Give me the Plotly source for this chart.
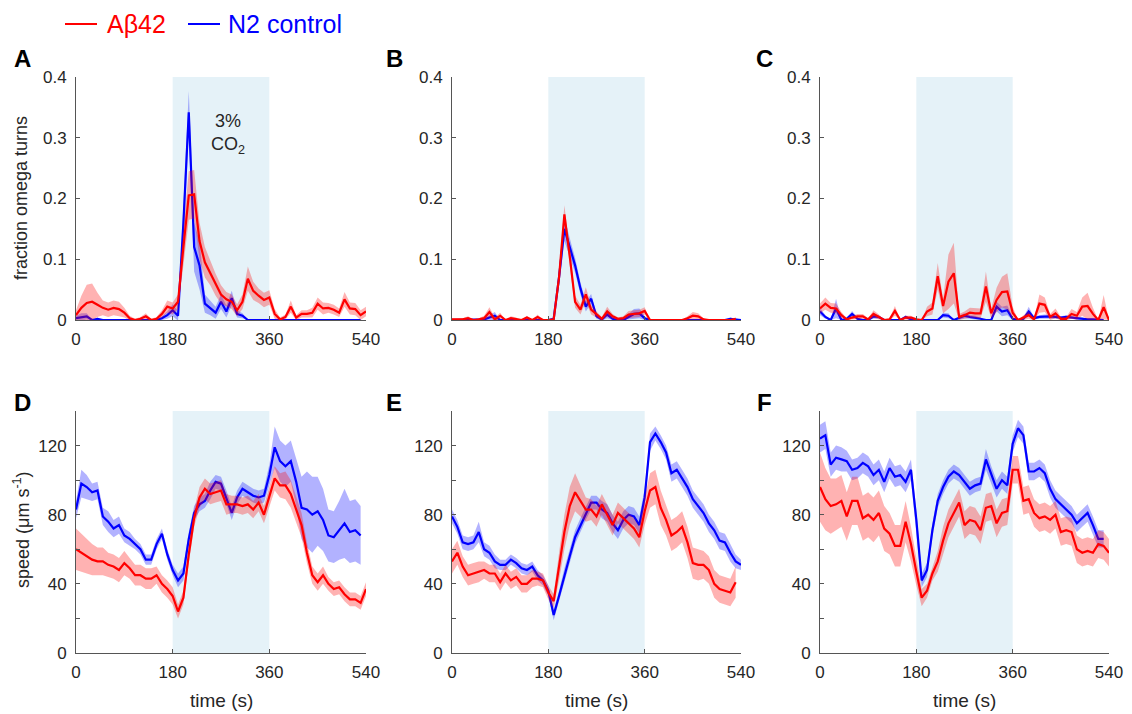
import plotly.graph_objects as go

T = list(range(0, 550, 10))

# ---- Panel A (fraction omega turns) ----
A_red = [0.008,0.020,0.028,0.030,0.025,0.020,0.017,0.020,0.018,0.012,
         0.003,0.000,0.002,0.006,0.000,0.002,0.010,0.022,0.019,0.030,
         0.120,0.205,0.207,0.130,0.095,0.077,0.058,0.042,0.034,0.030,
         0.016,0.030,0.068,0.048,0.040,0.033,0.037,0.010,0.001,0.005,
         0.022,0.004,0.010,0.010,0.012,0.027,0.019,0.020,0.017,0.012,
         0.034,0.019,0.018,0.008,0.014]
A_red_sem = [0.008,0.02,0.03,0.03,0.02,0.012,0.012,0.012,0.012,0.008,
             0.004,0.002,0.003,0.005,0.002,0.003,0.006,0.01,0.01,0.012,
             0.03,0.04,0.04,0.03,0.025,0.02,0.018,0.015,0.012,0.012,
             0.01,0.012,0.02,0.015,0.012,0.012,0.012,0.008,0.003,0.004,
             0.01,0.004,0.006,0.006,0.008,0.01,0.01,0.008,0.008,0.007,
             0.012,0.01,0.01,0.008,0.008]
A_blue = [0.003,0.005,0.006,0.000,0.002,0,0,0,0,0,
          0,0,0,0,0,0,0.003,0.008,0.016,0.007,
          0.160,0.342,0.120,0.090,0.027,0.020,0.012,0.030,0.014,0.036,
          0.010,0.007,0,0,0,0,0,0,0,0,
          0,0,0,0,0,0,0,0,0,0,
          0,0,0,0]
A_blue_sem = [0.004,0.006,0.005,0,0.002,0,0,0,0,0,
              0,0,0,0,0,0,0.003,0.006,0.01,0.008,
              0.03,0.035,0.04,0.04,0.015,0.012,0.01,0.012,0.01,0.012,
              0.006,0.004,0,0,0,0,0,0,0,0,
              0,0,0,0,0,0,0,0,0,0,
              0,0,0,0]

# ---- Panel B ----
B_red = [0.001,0.001,0.001,0.003,0.000,0.001,0.003,0.013,0.001,0.007,
         0.000,0.003,0.002,0.000,0.004,0.000,0.005,0.000,0.000,0.001,
         0.070,0.174,0.105,0.030,0.017,0.042,0.017,0.009,0.002,0.014,
         0.006,0.002,0.003,0.009,0.010,0.011,0.015,0.000,0,0,
         0,0,0,0,0.003,0.007,0.006,0.001,0,0,
         0,0,0,0.002]
B_red_sem = [0.002,0.002,0.002,0.003,0,0.002,0.004,0.008,0.003,0.005,
             0,0.003,0.002,0,0.003,0,0.004,0,0,0.002,
             0.012,0.015,0.012,0.01,0.008,0.012,0.008,0.005,0.003,0.008,
             0.004,0.002,0.003,0.006,0.006,0.006,0.006,0,0,0,
             0,0,0,0,0.003,0.006,0.005,0.002,0,0,
             0,0,0,0.002]
B_blue = [0,0,0,0,0,0,0.001,0.004,0.007,0.000,
          0,0,0,0,0,0,0,0,0,0.002,
          0.070,0.150,0.120,0.090,0.052,0.022,0.035,0.006,0.001,0.009,
          0.002,0,0,0.005,0.010,0.011,0.003,0,0,0,
          0,0,0,0,0,0,0,0,0,0,
          0,0,0.002,0.001,0.0]
B_blue_sem = [0,0,0,0,0,0,0.002,0.004,0.006,0,
              0,0,0,0,0,0,0,0,0,0.002,
              0.015,0.02,0.015,0.012,0.01,0.008,0.008,0.004,0.002,0.006,
              0.002,0,0,0.005,0.008,0.008,0.003,0,0,0,
              0,0,0,0,0,0,0,0,0,0,
              0,0,0.002,0.001,0]

# ---- Panel C ----
C_red = [0.019,0.027,0.020,0.019,0.008,0.001,0.004,0.006,0.006,0.001,
         0.010,0.005,0.000,0.001,0.015,0.000,0.004,0.004,0.001,0.000,
         0.014,0.019,0.072,0.023,0.063,0.077,0.005,0.008,0.012,0.011,
         0.011,0.055,0.011,0.033,0.046,0.047,0.012,0.000,0.004,0.008,
         0.001,0.027,0.025,0.005,0.011,0.002,0.002,0.010,0.007,0.022,
         0.023,0.010,0.000,0.021,0.000]
C_red_sem = [0.008,0.01,0.008,0.008,0.005,0.002,0.003,0.004,0.004,0.002,
             0.006,0.004,0,0.002,0.008,0,0.003,0.003,0.002,0,
             0.008,0.01,0.022,0.012,0.045,0.05,0.005,0.006,0.008,0.008,
             0.008,0.025,0.008,0.02,0.025,0.03,0.01,0,0.004,0.006,
             0.002,0.015,0.012,0.005,0.008,0.003,0.003,0.008,0.006,0.015,
             0.022,0.01,0,0.02,0]
C_blue = [0.014,0.005,0.000,0.019,0.000,0.002,0.010,0.002,0.000,0.000,
          0.006,0.005,0.000,0.000,0.000,0.000,0.005,0.001,0,0,
          0,0,0,0.008,0.007,0.000,0.004,0.007,0.005,0.004,
          0.002,0,0,0.022,0.014,0.016,0.002,0,0.002,0.014,
          0.003,0.005,0.006,0.006,0.005,0.004,0.005,0.004,0.002,0.002,
          0.001,0.001,0.001,0.0]
C_blue_sem = [0.006,0.003,0,0.016,0,0.002,0.005,0.002,0,0,
              0.004,0.003,0,0,0,0,0.003,0.001,0,0,
              0,0,0,0.004,0.004,0,0.003,0.004,0.003,0.003,
              0.002,0,0,0.008,0.008,0.008,0.002,0,0.002,0.008,
              0.002,0.003,0.003,0.003,0.003,0.002,0.003,0.002,0.002,0.002,
              0.001,0.001,0.001,0]

# ---- Panel D (speed) ----
D_red = [60,58,56,54,53,53,51,50,48,52,
         49,45,45,43,43,45,40,37,33,24,
         32,57,78,90,95,92,93,94,86,86,
         86,85,86,83,87,80,90,101,97,97,
         92,83,74,58,45,41,45,40,37,38,
         34,31,31,29,37]
D_red_sem = [12,11,10,9,8,8,7,7,7,7,
             6,6,6,6,6,5,5,5,5,4,
             4,5,5,6,6,6,6,6,6,5,
             5,5,5,5,5,5,6,7,7,8,
             8,8,7,6,5,5,5,4,4,4,
             4,4,4,4,4]
D_blue = [83,98,96,93,94,79,76,72,74,68,
          66,63,60,54,54,63,69,57,48,42,
          46,66,81,86,88,94,99,98,90,81,
          90,95,93,91,90,91,103,119,111,108,
          111,99,84,83,80,82,77,68,67,71,
          75,70,71,68]
D_blue_sem = [5,8,7,5,5,5,6,5,5,4,
              4,3,3,3,3,3,3,3,3,4,
              4,4,4,4,4,5,4,4,4,4,
              4,4,4,4,4,4,6,12,12,12,
              12,14,18,22,22,20,18,15,15,17,
              20,18,18,17]

# ---- Panel E ----
E_red = [53,58,50,45,46,47,48,46,46,41,
         46,42,44,40,40,43,43,42,35,30,
         50,70,85,93,88,83,83,79,86,80,
         74,81,78,75,72,67,82,94,96,84,
         77,68,70,73,64,52,51,51,48,40,
         37,36,35,41]
E_red_sem = [7,7,6,6,6,6,5,5,5,5,
             5,5,5,5,5,5,4,4,4,4,
             8,10,11,11,9,7,6,6,6,6,
             6,6,6,6,6,6,8,10,10,10,
             9,9,9,9,9,9,9,8,8,8,
             8,8,8,9]
E_blue = [79,73,64,63,64,70,60,58,53,51,
          51,54,52,49,48,50,45,42,36,22,
          33,45,56,67,74,81,87,87,83,81,
          75,71,77,80,79,74,90,122,127,122,
          116,104,106,101,96,89,85,81,75,71,
          65,64,58,53,51]
E_blue_sem = [4,4,4,4,4,6,4,4,4,3,
              3,3,3,3,3,3,3,3,3,3,
              3,4,4,4,4,4,4,4,5,5,
              5,5,5,5,5,5,5,5,4,4,
              4,5,5,5,5,5,5,5,5,5,
              5,5,5,4,3]

# ---- Panel F ----
F_red = [96,89,85,86,88,79,88,88,78,80,
         77,81,72,69,62,62,76,63,47,32,
         36,46,53,65,75,81,87,74,77,76,
         71,84,85,75,81,82,106,106,88,89,
         81,78,79,77,80,70,71,70,60,58,
         59,58,63,62,58]
F_red_sem = [20,18,16,15,15,14,14,14,13,13,
             13,13,13,12,12,12,12,10,8,5,
             4,4,6,8,8,8,8,8,8,8,
             8,8,8,8,8,8,8,8,8,8,
             8,8,8,8,8,8,8,8,8,8,
             8,8,8,8,8]
F_blue = [124,126,109,113,112,111,106,107,110,108,
          103,106,99,107,102,103,99,106,77,42,
          48,71,88,96,102,105,103,99,95,97,
          98,112,103,95,100,97,121,130,126,105,
          105,107,104,95,89,86,83,80,75,78,
          81,74,66,66]
F_blue_sem = [8,8,7,7,7,6,6,6,6,6,
              6,6,6,6,6,6,6,6,6,4,
              4,4,4,4,4,4,4,4,4,4,
              4,6,5,5,5,5,5,5,5,5,
              5,5,5,5,5,5,5,5,5,5,
              5,5,5,5]

panel_labels = ["A", "B", "C", "D", "E", "F"]
x_ticks = [0, 180, 360, 540]
top_yticks = [0, 0.1, 0.2, 0.3, 0.4]
top_yticktext = ["0", "0.1", "0.2", "0.3", "0.4"]
bot_yticks = [0, 20, 40, 60, 80, 100, 120, 140]
bot_yticktext = ["0", "", "40", "", "80", "", "120", ""]
series_names = ["Aβ42", "N2 control"]

panels = [
    (A_red, A_red_sem, A_blue, A_blue_sem),
    (B_red, B_red_sem, B_blue, B_blue_sem),
    (C_red, C_red_sem, C_blue, C_blue_sem),
    (D_red, D_red_sem, D_blue, D_blue_sem),
    (E_red, E_red_sem, E_blue, E_blue_sem),
    (F_red, F_red_sem, F_blue, F_blue_sem),
]

W, H = 1132, 714
xdom_px = [(76, 366), (452, 741), (820, 1109)]
ydom_px = [(77, 320), (411, 653)]
FONT = "Liberation Sans, Arial, sans-serif"
AXC = "#555555"
TXT = "#262626"
RED, BLUE = "#ff0000", "#0000ff"

fig = go.Figure()
layout = {}
for i, (rm, rs, bm, bs) in enumerate(panels):
    r, c = divmod(i, 3)
    n = i + 1
    xa = "x" if n == 1 else f"x{n}"
    ya = "y" if n == 1 else f"y{n}"
    series = [
        (bm, bs, BLUE, "rgba(0,0,255,0.3)", series_names[1]),
        (rm, rs, RED, "rgba(255,0,0,0.3)", series_names[0]),
    ]
    for mean, sem, col, fcol, name in series:
        x = T[:len(mean)]
        up = [m + s for m, s in zip(mean, sem)]
        lo = [m - s for m, s in zip(mean, sem)]
        fig.add_trace(go.Scatter(x=x + x[::-1], y=up + lo[::-1], fill="toself",
                                 fillcolor=fcol, line=dict(width=0), mode="lines",
                                 hoverinfo="skip", showlegend=False, xaxis=xa, yaxis=ya))
        fig.add_trace(go.Scatter(x=x, y=mean, mode="lines", line=dict(color=col, width=2.2),
                                 name=name, showlegend=False, xaxis=xa, yaxis=ya))
    fig.add_shape(type="rect", xref=xa, yref=f"{ya} domain", x0=180, x1=360, y0=0, y1=1,
                  fillcolor="#e5f2f8", line_width=0, layer="below")
    x0, x1 = xdom_px[c]
    y0, y1 = ydom_px[r]
    xkey = "xaxis" if n == 1 else f"xaxis{n}"
    ykey = "yaxis" if n == 1 else f"yaxis{n}"
    layout[xkey] = dict(domain=[x0 / W, x1 / W], range=[0, 540], tickvals=x_ticks,
                        ticks="inside", ticklen=4, tickcolor=AXC, showline=True,
                        linecolor=AXC, linewidth=1, showgrid=False, zeroline=False,
                        ticklabelstandoff=4,
                        tickfont=dict(size=17, color=TXT, family=FONT), anchor=ya)
    if r == 0:
        yr, tv, tt = [0, 0.4], top_yticks, top_yticktext
    else:
        yr, tv, tt = [0, 140], bot_yticks, bot_yticktext
    layout[ykey] = dict(domain=[1 - y1 / H, 1 - y0 / H], range=yr, tickvals=tv, ticktext=tt,
                        ticks="inside", ticklen=4, tickcolor=AXC, showline=True,
                        linecolor=AXC, linewidth=1, showgrid=False, zeroline=False,
                        ticklabelstandoff=5,
                        tickfont=dict(size=17, color=TXT, family=FONT), anchor=xa)


def note(text, px, py, size, color=TXT, angle=0, xanchor="center"):
    return dict(text=text, x=px / W, y=1 - py / H, xref="paper", yref="paper",
                xanchor=xanchor, yanchor="middle", textangle=angle, showarrow=False,
                font=dict(size=size, color=color, family=FONT))


annotations = []
letter_pos = [(22, 58), (394, 58), (764, 58), (22, 402), (394, 402), (764, 402)]
for lab, (px, py) in zip(panel_labels, letter_pos):
    annotations.append(note(f"<b>{lab}</b>", px, py, 24, color="black"))
annotations.append(note("fraction omega turns", 21, 198, 18, angle=-90))
annotations.append(note("speed (μm s<sup>-1</sup>)", 21, 530, 18, angle=-90))
for c in range(3):
    cx = (xdom_px[c][0] + xdom_px[c][1]) / 2
    annotations.append(note("time (s)", cx, 700, 19))
annotations.append(dict(text="3%<br>CO<sub>2</sub>", x=283, y=0.306, xref="x", yref="y",
                        xanchor="center", yanchor="middle",
                        showarrow=False, font=dict(size=18, color=TXT, family=FONT)))

# legend (drawn manually to match the reference's coloured labels)
shapes_legend = [
    dict(type="line", xref="paper", yref="paper", x0=65 / W, x1=97 / W,
         y0=1 - 24 / H, y1=1 - 24 / H, line=dict(color=RED, width=2)),
    dict(type="line", xref="paper", yref="paper", x0=188 / W, x1=220 / W,
         y0=1 - 24 / H, y1=1 - 24 / H, line=dict(color=BLUE, width=2)),
]
for shp in shapes_legend:
    fig.add_shape(**shp)
annotations.append(note(series_names[0], 105, 24, 25, color=RED, xanchor="left"))
annotations.append(note(series_names[1], 226, 24, 25, color=BLUE, xanchor="left"))

fig.update_layout(**layout)
fig.update_layout(
    width=W, height=H, margin=dict(l=0, r=0, t=0, b=0, autoexpand=False),
    paper_bgcolor="white", plot_bgcolor="white",
    annotations=annotations, showlegend=False,
    font=dict(family=FONT),
)
fig.write_html("out.html", config={"displayModeBar": False},
               post_script="document.body.style.margin='0px';document.body.style.overflow='hidden';")
